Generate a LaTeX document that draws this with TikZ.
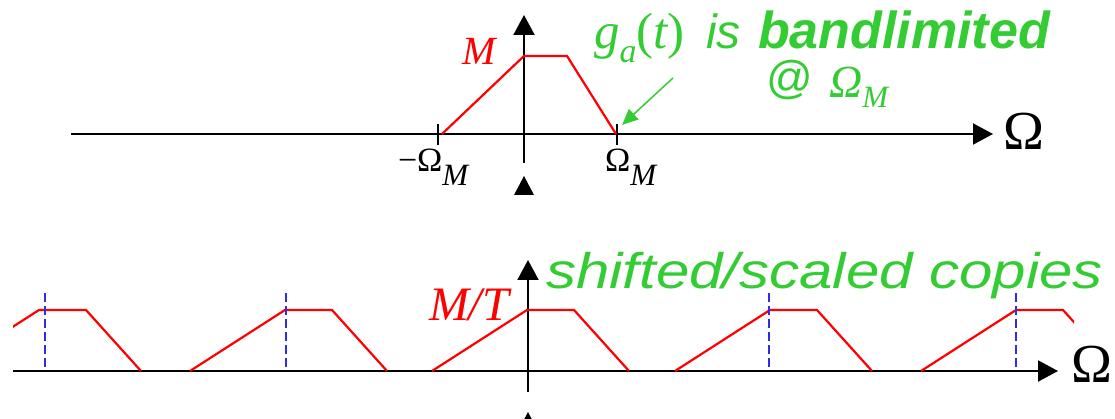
\documentclass[tikz,border=0pt]{standalone}
\usepackage{fontspec}
\setmainfont{Liberation Serif}
\newfontfamily\sansf{Liberation Sans}
\usetikzlibrary{arrows.meta}
\definecolor{grn}{RGB}{51,204,51}
\definecolor{dblue}{RGB}{45,45,225}
\newcommand{\fs}[1]{\fontsize{#1}{#1}\selectfont}
\begin{document}
\begin{tikzpicture}[x=1pt,y=-1pt,
  axisline/.style={line width=2pt, -{Triangle[length=20pt,width=21pt]}},
  tickline/.style={line width=1.5pt},
  spec/.style={red, line width=2.2pt, line join=round},
  dashmark/.style={dblue, line width=1.5pt, dash pattern=on 9pt off 4pt},
  lbl/.style={inner sep=0pt, outer sep=0pt, anchor=base west},
  note/.style={grn, line width=1.5pt, -{Triangle[length=16pt,width=14pt]}}]
\useasboundingbox (0,0) rectangle (1115,419);
\clip (0,0) rectangle (1115,419);

% ---------- top panel ----------
\coordinate (tx0) at (71,134);
\coordinate (tx1) at (993,134);
\coordinate (ty0) at (524,163);
\coordinate (ty1) at (524,15);
\draw[axisline] (tx0) -- (tx1);
\draw[axisline] (ty0) -- (ty1);
\fill (514,195) -- (524,176) -- (534,195) -- cycle;
\draw[tickline] (438,124) -- (438,145);
\draw[tickline] (617,124) -- (617,145);
\draw[spec] (442,134) -- (524,56) -- (567,56) -- (616,134);

\node[lbl, text=red] (mtop) at (462,65) {\fs{40}\itshape M};
\node[lbl] (negom) at (398,172) {\fs{34}−Ω\raisebox{-14pt}{\fs{31}\itshape M}};
\node[lbl] (posom) at (605,172) {\fs{34}Ω\raisebox{-14pt}{\fs{31}\itshape M}};
\node[lbl] (omtop) at (1003,150) {\fs{55}Ω};

\node[lbl, text=grn] (ga) at (594,49) {\fs{51}\itshape g\raisebox{-14pt}{\fs{34}a}\upshape(\itshape t\upshape)};
\node[lbl, text=grn] (is) at (706,49) {\sansf\fs{48}\itshape is};
\node[lbl, text=grn] (bl) at (758,49) {\sansf\fs{52}\bfseries\itshape bandlimited};
\node[lbl, text=grn] (at) at (766,94) {\sansf\fs{46}@};
\node[lbl, text=grn] (omm) at (829,98) {\fs{46}\itshape Ω\raisebox{-10pt}{\fs{31}M}};
\coordinate (gs) at (673,78);
\coordinate (gt) at (622,125);
\draw[note] (gs) -- (gt);

% ---------- bottom panel ----------
\coordinate (bx0) at (13,371);
\coordinate (bx1) at (1058,371);
\coordinate (by0) at (528,392);
\coordinate (by1) at (528,260);
\draw[axisline] (bx0) -- (bx1);
\draw[axisline] (by0) -- (by1);
\fill (518,431) -- (528,412) -- (538,431) -- cycle;

\begin{scope}
\clip (13,0) rectangle (1074,419);
\foreach \c in {39,285,527,770,1016}
  \draw[spec] (\c-95,371) -- (\c,310) -- (\c+47,310) -- (\c+102,371);
\end{scope}
\foreach \d in {45,286,769,1016}
  \draw[dashmark] (\d,293) -- (\d,367);

\node[lbl, text=red] (mt) at (429,320) {\fs{48}\itshape M/T};
\node[lbl] (ombot) at (1071,382) {\fs{55}Ω};
\node[lbl, text=grn] (sc) at (546,288) {\scalebox{1.2}[1]{\sansf\fs{50}\itshape shifted/scaled copies}};
\end{tikzpicture}
\end{document}
